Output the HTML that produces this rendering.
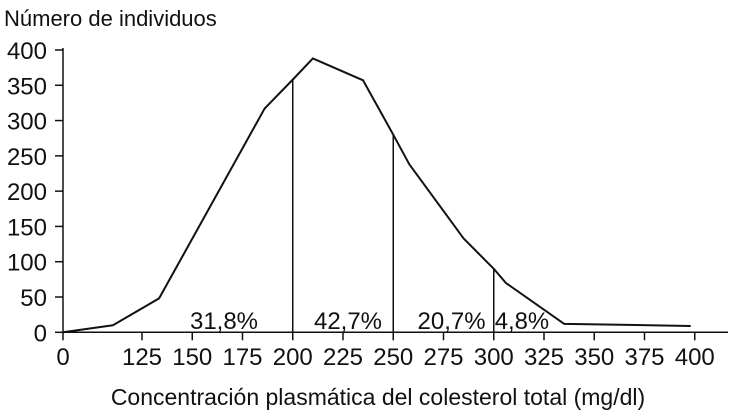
<!DOCTYPE html>
<html><head><meta charset="utf-8"><style>
body{margin:0;background:#fff}
svg text{font-family:"Liberation Sans Narrow","Liberation Sans",sans-serif;fill:#111}
</style></head><body>
<svg width="730" height="415" id="c">
<text x="4" y="26" font-size="22">Número de individuos</text>
<text x="378" y="405" font-size="23" text-anchor="middle">Concentración plasmática del colesterol total (mg/dl)</text>
</svg>
<script>
const xVals=[0,79,133.5,186,200,210,235,250,258,285,300,306,335,398];
const yVals=[0,10,48,317,358,388,357,280,238,133,90,70,12,9];
const xTicks=[0,125,150,175,200,225,250,275,300,325,350,375,400];
const yTicks=[0,50,100,150,200,250,300,350,400];
const cutoffs=[200,250,300];
const pctLabels=["31,8%","42,7%","20,7%","4,8%"];
const pctX=[165.8,227.5,279,314];
const NS="http://www.w3.org/2000/svg";
const svg=document.getElementById('c');
function sx(v){return v<125?63+v/125*79:142+(v-125)*2.01;}
function sy(v){return 332.3-v*0.7058;}
function mk(t,a){const e=document.createElementNS(NS,t);for(const k in a)e.setAttribute(k,a[k]);svg.appendChild(e);return e;}
function interp(x){for(let i=0;i<xVals.length-1;i++){if(x>=xVals[i]&&x<=xVals[i+1]){const t=(x-xVals[i])/(xVals[i+1]-xVals[i]);return yVals[i]+t*(yVals[i+1]-yVals[i]);}}return 0;}
let ax=mk('line',{x1:63,y1:sy(0),x2:728,y2:sy(0),stroke:'#111','stroke-width':1.5});


let ay=mk('line',{x1:63,y1:sy(0),x2:63,y2:sy(400)-2,stroke:'#111','stroke-width':1.5});


yTicks.forEach(v=>{
 let l=mk('line',{x1:55,y1:sy(v),x2:63,y2:sy(v),stroke:'#111','stroke-width':1.5});
 
 
 let t=mk('text',{x:47,y:sy(v)+9,'font-size':24,'text-anchor':'end'});t.textContent=v;
 
 
});
xTicks.forEach(v=>{
 let l=mk('line',{x1:sx(v),y1:sy(0),x2:sx(v),y2:sy(0)+8,stroke:'#111','stroke-width':1.5});
 
 
 let t=mk('text',{x:sx(v),y:365,'font-size':24,'text-anchor':'middle'});t.textContent=v;
 
 
});
cutoffs.forEach(v=>{
 let l=mk('line',{x1:sx(v),y1:sy(0),x2:sx(v),y2:sy(interp(v)),stroke:'#111','stroke-width':1.5});
 
 
});
let d=xVals.map((x,i)=>(i?'L':'M')+sx(x)+','+sy(yVals[i])).join(' ');
let p=mk('path',{d:d,fill:'none',stroke:'#111','stroke-width':2,'stroke-linejoin':'round'});


pctLabels.forEach((s,i)=>{
 let t=mk('text',{x:sx(pctX[i]),y:329,'font-size':24,'text-anchor':'middle',textLength:s.length*13.6,lengthAdjust:'spacingAndGlyphs'});t.textContent=s;
 
 
});
</script>
</body></html>
